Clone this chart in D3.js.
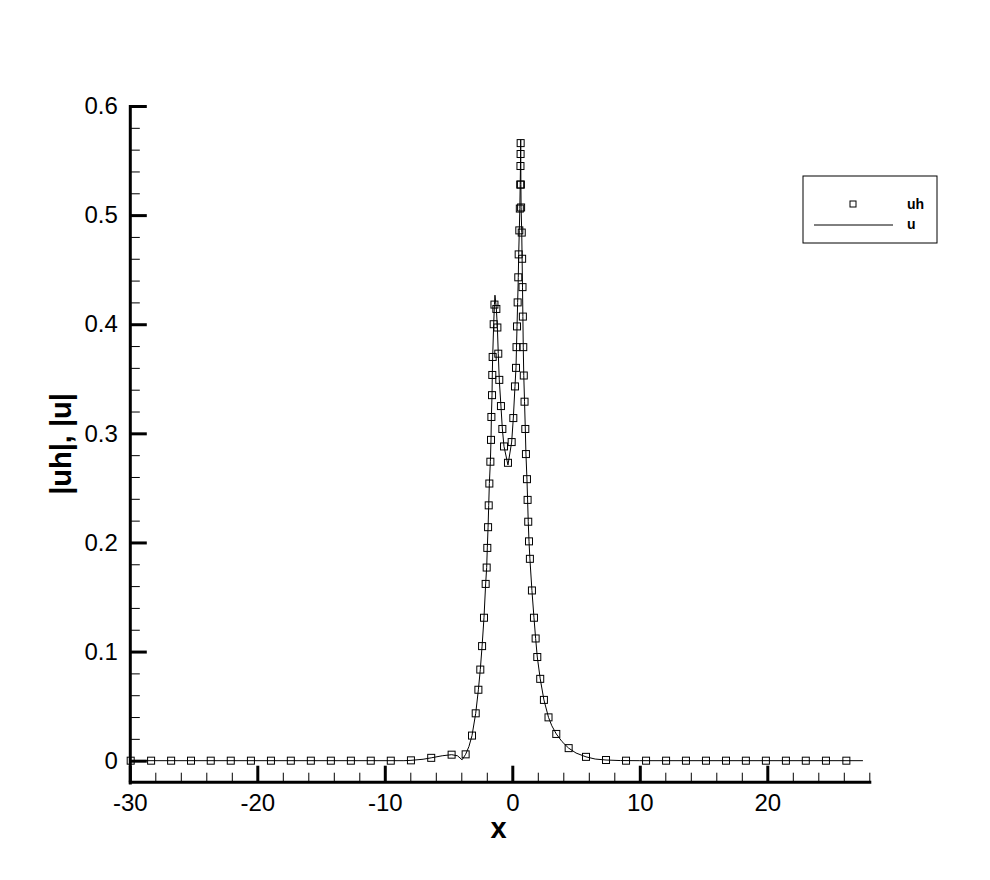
<!DOCTYPE html>
<html>
<head>
<meta charset="utf-8">
<script src="https://cdn.jsdelivr.net/npm/d3@7/dist/d3.min.js"></script>
<style>
  html, body { margin: 0; padding: 0; background: #fff; }
  svg { display: block; font-family: "Liberation Sans", Arial, Helvetica, sans-serif; }
</style>
</head>
<body>
<svg id="chart" width="990" height="880"></svg>
<script>
// ---------- data ----------
const uhX = [-29.93, -28.33, -26.76, -25.2, -23.65, -22.08, -20.5, -18.93, -17.37, -15.8, -14.23, -12.66, -11.1, -9.53,
  -7.95, -6.36, -4.76, -3.66, -3.16, -2.87, -2.66, -2.51, -2.37, -2.22, -2.09, -2.01, -1.96, -1.90, -1.85, -1.80,
  -1.72, -1.67, -1.64, -1.59, -1.57, -1.54, -1.46, -1.40, -1.25, -1.17, -1.10, -1.02, -0.89, -0.78, -0.65, -0.34,
  -0.05, 0.08, 0.21, 0.29, 0.33, 0.37, 0.42, 0.47, 0.50, 0.55, 0.59, 0.62, 0.64, 0.65, 0.655, 0.675, 0.69, 0.74,
  0.77, 0.80, 0.83, 0.86, 0.90, 0.96, 1.02, 1.07, 1.15, 1.20, 1.25, 1.31, 1.38, 1.54, 1.70, 1.83, 1.96, 2.19, 2.48,
  2.84, 3.45, 4.42, 5.78, 7.35, 8.92, 10.49, 12.06, 13.62, 15.19, 16.76, 18.32, 19.89, 21.46, 23.02, 24.6, 26.2];
const uhY = [0, 0, 0, 0, 0, 0, 0, 0, 0, 0, 0, 0, 0, 0,
  0.0003, 0.0026, 0.0055, 0.0058, 0.023, 0.0434, 0.065, 0.0835, 0.105, 0.131, 0.162, 0.177, 0.195, 0.214, 0.234, 0.254,
  0.274, 0.294, 0.315, 0.335, 0.3535, 0.370, 0.400, 0.418, 0.414, 0.397, 0.373, 0.349, 0.325, 0.304, 0.288, 0.273,
  0.292, 0.314, 0.343, 0.360, 0.379, 0.398, 0.420, 0.443, 0.464, 0.486, 0.506, 0.528, 0.545, 0.556, 0.566, 0.528, 0.507, 0.484,
  0.460, 0.434, 0.407, 0.379, 0.353, 0.329, 0.304, 0.281, 0.258, 0.239, 0.219, 0.201, 0.185, 0.156, 0.131, 0.112, 0.095, 0.075, 0.0557,
  0.0397, 0.0245, 0.0115, 0.0035, 0.0006, 0, 0, 0, 0, 0, 0, 0, 0, 0, 0, 0, 0];

const uX = [-30, -8.5, -7.95, -7.0, -6.36, -5.5, -4.76, -4.3, -3.94, -3.66, -3.4, -3.16, -2.87, -2.66, -2.51, -2.37,
  -2.22, -2.09, -2.01, -1.96, -1.90, -1.85, -1.80, -1.72, -1.67, -1.64, -1.59, -1.57, -1.54, -1.46, -1.40, -1.36,
  -1.25, -1.17, -1.10, -1.02, -0.89, -0.78, -0.65, -0.34, -0.05, 0.08, 0.21, 0.29, 0.33, 0.37, 0.42, 0.47, 0.50,
  0.55, 0.59, 0.62, 0.64, 0.65, 0.66, 0.675, 0.69, 0.74, 0.77, 0.80, 0.83, 0.86, 0.90, 0.96, 1.02, 1.07, 1.15, 1.20,
  1.25, 1.31, 1.38, 1.54, 1.70, 1.83, 1.96, 2.19, 2.48, 2.84, 3.10, 3.45, 3.9, 4.42, 5.0, 5.78, 6.5, 7.35, 8.5, 10, 27.5];
const uY = [0, 0, 0.0003, 0.0013, 0.0026, 0.0045, 0.0055, 0.0045, 0.0008, 0.0058, 0.013, 0.023, 0.0434, 0.065, 0.0835, 0.105,
  0.131, 0.162, 0.177, 0.195, 0.214, 0.234, 0.254, 0.274, 0.294, 0.315, 0.335, 0.3535, 0.370, 0.400, 0.418, 0.4266,
  0.414, 0.397, 0.373, 0.349, 0.325, 0.304, 0.288, 0.271, 0.292, 0.314, 0.343, 0.360, 0.379, 0.398, 0.420, 0.443, 0.464,
  0.486, 0.506, 0.528, 0.545, 0.556, 0.569, 0.528, 0.507, 0.484, 0.460, 0.434, 0.407, 0.379, 0.353, 0.329, 0.304, 0.281, 0.258, 0.239,
  0.219, 0.201, 0.185, 0.156, 0.131, 0.112, 0.095, 0.075, 0.0557, 0.0397, 0.032, 0.0245, 0.0175, 0.0115, 0.007, 0.0035, 0.0015, 0.0006, 0.0001, 0, 0];

const xMajorTicks = [-30, -20, -10, 0, 10, 20];
const xTickLabels = ["-30", "-20", "-10", "0", "10", "20"];
const xMinorTicks = d3.range(-28, 28.01, 2).filter(v => v % 10 !== 0);
const yMajorTicks = [0, 0.1, 0.2, 0.3, 0.4, 0.5, 0.6];
const yTickLabels = ["0", "0.1", "0.2", "0.3", "0.4", "0.5", "0.6"];
const yMinorTicks = [0.02, 0.04, 0.06, 0.08, 0.12, 0.14, 0.16, 0.18, 0.22, 0.24, 0.26, 0.28,
  0.32, 0.34, 0.36, 0.38, 0.42, 0.44, 0.46, 0.48, 0.52, 0.54, 0.56, 0.58];
const seriesNames = ["uh", "u"];
const xTitle = "x";
const yTitle = "|uh|, |u|";

// ---------- drawing ----------
const svg = d3.select("#chart");
const x = d3.scaleLinear().domain([-30, 28]).range([129.8, 869.3]);
const y = d3.scaleLinear().domain([-0.02, 0.6]).range([782.5, 106]);
const x0 = 129.8, yAxisPos = 781.7;

// curve u
const line = d3.line().x(d => x(d[0])).y(d => y(d[1]));
svg.append("path")
  .datum(uX.map((v, i) => [v, uY[i]]))
  .attr("d", line)
  .attr("fill", "none")
  .attr("stroke", "#000")
  .attr("stroke-width", 1);

// markers uh
const ms = 7;
svg.append("g").selectAll("rect")
  .data(uhX.map((v, i) => [v, uhY[i]]))
  .join("rect")
  .attr("x", d => x(d[0]) - ms / 2)
  .attr("y", d => y(d[1]) - ms / 2)
  .attr("width", ms).attr("height", ms)
  .attr("fill", "none")
  .attr("stroke", "#000")
  .attr("stroke-width", 1);

// x axis minor
svg.append("g")
  .attr("transform", `translate(0,${yAxisPos})`)
  .call(d3.axisBottom(x).tickValues(xMinorTicks).tickSizeInner(-9).tickSizeOuter(0).tickFormat(""))
  .call(g => g.select(".domain").remove())
  .call(g => g.selectAll(".tick line").attr("stroke", "#000").attr("stroke-width", 1));

// x axis major
const gx = svg.append("g")
  .attr("transform", `translate(0,${yAxisPos})`)
  .call(d3.axisBottom(x).tickValues(xMajorTicks).tickSizeInner(-16).tickSizeOuter(0)
    .tickPadding(12).tickFormat((d, i) => xTickLabels[i]));
gx.selectAll(".tick line").attr("stroke", "#000").attr("stroke-width", 3);
gx.select(".domain").attr("stroke", "#000").attr("stroke-width", 3).attr("stroke-linecap", "square");
gx.selectAll(".tick text").attr("fill", "#000").style("font-size", "24px")
  .style("font-family", "'Liberation Sans', Arial, sans-serif");

// y axis minor
svg.append("g")
  .attr("transform", `translate(${x0},0)`)
  .call(d3.axisLeft(y).tickValues(yMinorTicks).tickSizeInner(-10).tickSizeOuter(0).tickFormat(""))
  .call(g => g.select(".domain").remove())
  .call(g => g.selectAll(".tick line").attr("stroke", "#000").attr("stroke-width", 1));

// y axis major
const gy = svg.append("g")
  .attr("transform", `translate(${x0},0)`)
  .call(d3.axisLeft(y).tickValues(yMajorTicks).tickSizeInner(-17).tickSizeOuter(0)
    .tickPadding(12).tickFormat((d, i) => yTickLabels[i]));
gy.selectAll(".tick line").attr("stroke", "#000").attr("stroke-width", 3);
gy.select(".domain").attr("stroke", "#000").attr("stroke-width", 3).attr("stroke-linecap", "square");
gy.selectAll(".tick text").attr("fill", "#000").style("font-size", "24px")
  .style("font-family", "'Liberation Sans', Arial, sans-serif");

// axis titles
svg.append("text")
  .attr("x", 498.5).attr("y", 838)
  .attr("text-anchor", "middle")
  .style("font-size", "29px").style("font-weight", "bold")
  .text(xTitle);
svg.append("text")
  .attr("transform", "translate(71,444) rotate(-90)")
  .attr("text-anchor", "middle")
  .style("font-size", "29px").style("font-weight", "bold")
  .text(yTitle);

// legend
const lg = svg.append("g");
lg.append("rect").attr("x", 803).attr("y", 176).attr("width", 134).attr("height", 67)
  .attr("fill", "#fff").attr("stroke", "#000").attr("stroke-width", 1);
lg.append("rect").attr("x", 850).attr("y", 201).attr("width", 6).attr("height", 6)
  .attr("fill", "none").attr("stroke", "#000").attr("stroke-width", 1);
lg.append("line").attr("x1", 814).attr("x2", 893).attr("y1", 225).attr("y2", 225)
  .attr("stroke", "#000").attr("stroke-width", 1);
lg.append("text").attr("x", 907).attr("y", 209).style("font-size", "14px").style("font-weight", "bold").text(seriesNames[0]);
lg.append("text").attr("x", 907).attr("y", 229).style("font-size", "14px").style("font-weight", "bold").text(seriesNames[1]);
</script>
</body>
</html>
